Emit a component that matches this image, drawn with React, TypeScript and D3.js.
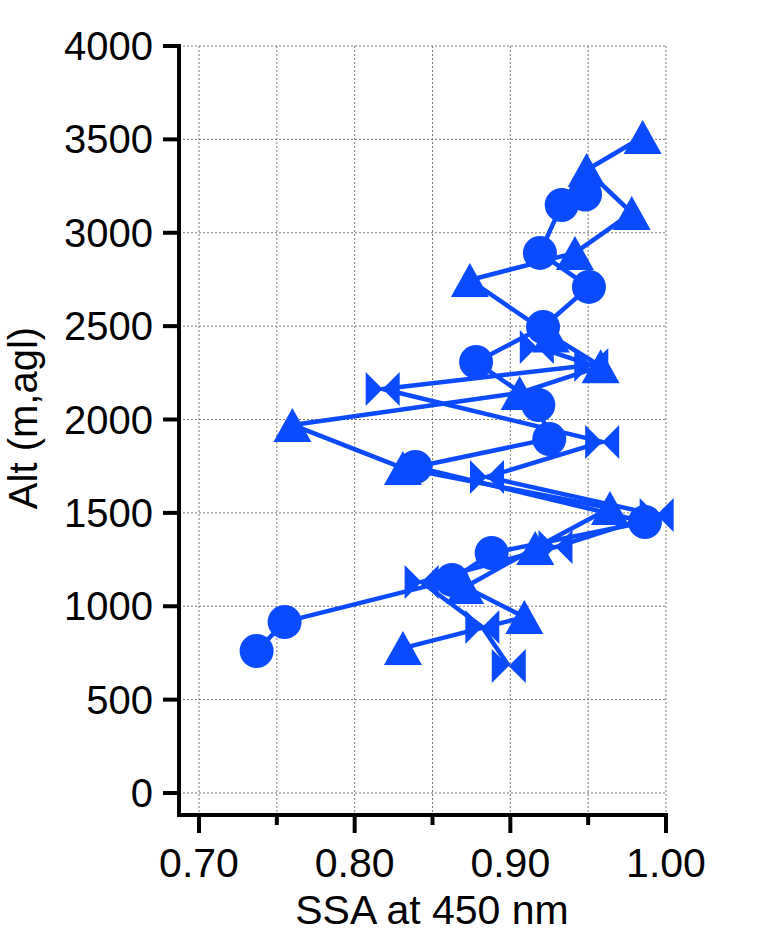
import React from "react";
import * as d3 from "d3";

const circleSSA = [0.737, 0.755, 0.8625, 0.888, 0.9865, 0.839, 0.925, 0.918, 0.878, 0.921, 0.9505, 0.919, 0.933, 0.948];
const circleAlt = [760, 916, 1141, 1285, 1451, 1746, 1896, 2078, 2308, 2495, 2710, 2892, 3149, 3205];

const triangleSSA = [0.831, 0.909, 0.871, 0.916, 0.964, 0.831, 0.76, 0.906, 0.958, 0.926, 0.874, 0.9415, 0.978, 0.949, 0.985];
const triangleAlt = [776, 942, 1103, 1312, 1526, 1740, 1971, 2142, 2285, 2450, 2747, 2892, 3106, 3336, 3513];

const bowtieSSA = [0.899, 0.882, 0.843, 0.929, 0.994, 0.885, 0.959, 0.818, 0.952, 0.917];
const bowtieAlt = [680, 889, 1130, 1317, 1489, 1692, 1880, 2163, 2292, 2388];

const xTicks = [0.7, 0.8, 0.9, 1.0];
const xMinor = [0.75, 0.85, 0.95];
const xGrid = [0.7, 0.75, 0.8, 0.85, 0.9, 0.95, 1.0];
const yTicks = [0, 500, 1000, 1500, 2000, 2500, 3000, 3500, 4000];

const BLUE = "#0a4bff";
const FONT = "'Liberation Sans', Arial, sans-serif";

export default function App() {
  const x = d3.scaleLinear().domain([0.7, 1.0]).range([199, 666]);
  const y = d3.scaleLinear().domain([0, 4000]).range([793, 46]);
  const axisX = 179;
  const axisY = 815;

  const line = d3.line<[number, number]>().x((d) => x(d[0])).y((d) => y(d[1]));
  const zip = (a: number[], b: number[]) => a.map((v, i) => [v, b[i]] as [number, number]);

  const circles = zip(circleSSA, circleAlt);
  const triangles = zip(triangleSSA, triangleAlt);
  const bowties = zip(bowtieSSA, bowtieAlt);

  const triPath = "M0,-17L19,17L-19,17Z";
  const bowPath = "M-17,-17L0,0L-17,17ZM17,-17L0,0L17,17Z";

  return (
    <div style={{ position: "absolute", left: 0, top: 0 }}>
      <svg width={776} height={933} style={{ display: "block", background: "#fff" }}>
        <g stroke="#7a7a7a" strokeWidth={1} strokeDasharray="2,2">
          {xGrid.map((v) => (
            <line key={"gx" + v} x1={x(v)} x2={x(v)} y1={y(4000)} y2={axisY} />
          ))}
          {yTicks.map((v) => (
            <line key={"gy" + v} x1={axisX} x2={x(1.0)} y1={y(v)} y2={y(v)} />
          ))}
        </g>

        <g fill="none" stroke={BLUE} strokeWidth={4.5} strokeLinejoin="round">
          <path d={line(circles) || ""} />
          <path d={line(triangles) || ""} />
          <path d={line(bowties) || ""} />
        </g>
        <g fill={BLUE}>
          {circles.map((d, i) => (
            <circle key={"c" + i} cx={x(d[0])} cy={y(d[1])} r={17} />
          ))}
          {triangles.map((d, i) => (
            <path key={"t" + i} d={triPath} transform={`translate(${x(d[0])},${y(d[1])})`} />
          ))}
          {bowties.map((d, i) => (
            <path key={"b" + i} d={bowPath} transform={`translate(${x(d[0])},${y(d[1])})`} />
          ))}
        </g>

        <g stroke="#000" strokeWidth={4}>
          <line x1={axisX} x2={axisX} y1={y(4000) - 2} y2={axisY + 2} />
          <line x1={axisX - 2} x2={x(1.0) + 2} y1={axisY} y2={axisY} />
          {yTicks.map((v) => (
            <line key={"yt" + v} x1={163} x2={axisX} y1={y(v)} y2={y(v)} />
          ))}
          {xTicks.map((v) => (
            <line key={"xt" + v} x1={x(v)} x2={x(v)} y1={axisY} y2={axisY + 18} />
          ))}
          {xMinor.map((v) => (
            <line key={"xm" + v} x1={x(v)} x2={x(v)} y1={axisY} y2={axisY + 10} />
          ))}
        </g>

        <g fontFamily={FONT} fontSize={40} fill="#000">
          {yTicks.map((v) => (
            <text key={"yl" + v} x={153} y={y(v)} textAnchor="end" dominantBaseline="central">
              {v}
            </text>
          ))}
          <text transform={`translate(37,418) rotate(-90)`} textAnchor="middle">
            Alt (m,agl)
          </text>
        </g>
        <g fontFamily={FONT} fontSize={41} fill="#000">
          {xTicks.map((v) => (
            <text key={"xl" + v} x={x(v)} y={877} textAnchor="middle">
              {v.toFixed(2)}
            </text>
          ))}
          <text x={432} y={924} textAnchor="middle">
            SSA at 450 nm
          </text>
        </g>
      </svg>
    </div>
  );
}
